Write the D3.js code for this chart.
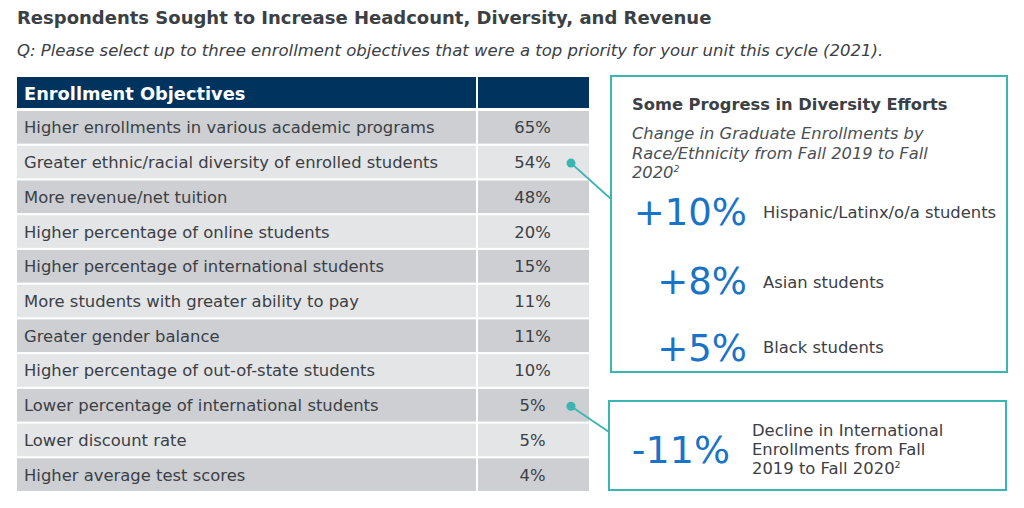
<!DOCTYPE html>
<html>
<head>
<meta charset="utf-8">
<script src="https://cdn.jsdelivr.net/npm/d3@7"></script>
<style>
  html, body { margin: 0; padding: 0; background: #fff; }
  svg { display: block; font-family: "DejaVu Sans", Verdana, sans-serif; }
</style>
</head>
<body>
<svg id="chart" width="1024" height="508"></svg>
<script>
// ---- data ----
const title = "Respondents Sought to Increase Headcount, Diversity, and Revenue";
const question = "Q: Please select up to three enrollment objectives that were a top priority for your unit this cycle (2021).";
const headerLabel = "Enrollment Objectives";
const objectives = [
  "Higher enrollments in various academic programs",
  "Greater ethnic/racial diversity of enrolled students",
  "More revenue/net tuition",
  "Higher percentage of online students",
  "Higher percentage of international students",
  "More students with greater ability to pay",
  "Greater gender balance",
  "Higher percentage of out-of-state students",
  "Lower percentage of international students",
  "Lower discount rate",
  "Higher average test scores"
];
const shares = [65, 54, 48, 20, 15, 11, 11, 10, 5, 5, 4];

const progressTitle = "Some Progress in Diversity Efforts";
const progressSubtitle = ["Change in Graduate Enrollments by", "Race/Ethnicity from Fall 2019 to Fall", "2020"];
const progressGroups = ["Hispanic/Latinx/o/a students", "Asian students", "Black students"];
const progressChange = [10, 8, 5];

const intlChange = -11;
const intlText = ["Decline in International", "Enrollments from Fall", "2019 to Fall 2020"];

// ---- styles ----
const navy = "#00345f", rowDark = "#cdcfd3", rowLight = "#e4e5e7";
const teal = "#3bb5b0", blue = "#1a73c6", textDark = "#3b4045";

const svg = d3.select("#chart");

// Title + question
svg.append("text").attr("x", 17).attr("y", 24)
  .attr("font-size", 18).attr("font-weight", "bold").attr("fill", textDark).text(title);
svg.append("text").attr("x", 17).attr("y", 56)
  .attr("font-size", 16.5).attr("font-style", "italic").attr("fill", textDark).text(question);

// Table scales
const col = d3.scaleOrdinal().domain(["label", "value"]).range([17, 478]);
const colW = { label: 459, value: 111 };
const y = d3.scaleBand().domain(objectives).range([111, 491]).paddingInner(0.06).paddingOuter(0);

// header
const header = svg.append("g");
["label", "value"].forEach(c => {
  header.append("rect").attr("x", col(c)).attr("y", 77).attr("width", colW[c]).attr("height", 31).attr("fill", navy);
});
header.append("text").attr("x", 24).attr("y", 100).attr("font-size", 17.8).attr("font-weight", "bold")
  .attr("fill", "#fff").text(headerLabel);

const rows = svg.append("g").selectAll("g").data(objectives).join("g")
  .attr("transform", d => `translate(0,${y(d)})`);
rows.append("rect").attr("x", col("label")).attr("width", colW.label).attr("height", y.bandwidth())
  .attr("fill", (d, i) => i % 2 === 0 ? rowDark : rowLight);
rows.append("rect").attr("x", col("value")).attr("width", colW.value).attr("height", y.bandwidth())
  .attr("fill", (d, i) => i % 2 === 0 ? rowDark : rowLight);
rows.append("text").attr("x", 24).attr("y", y.bandwidth() / 2 + 6)
  .attr("font-size", 16.4).attr("fill", textDark).text(d => d);
rows.append("text").attr("x", col("value") + colW.value / 2 - 1).attr("y", y.bandwidth() / 2 + 6)
  .attr("text-anchor", "middle").attr("font-size", 16.4).attr("fill", textDark)
  .text((d, i) => shares[i] + "%");

// connectors
function connector(rowName, bx, by) {
  const cy = y(rowName) + y.bandwidth() / 2 + 1;
  svg.append("line").attr("x1", 571).attr("y1", cy).attr("x2", bx).attr("y2", by)
    .attr("stroke", teal).attr("stroke-width", 1.8);
  svg.append("circle").attr("cx", 571).attr("cy", cy).attr("r", 4.5).attr("fill", teal);
}

// Box 1
svg.append("rect").attr("x", 611).attr("y", 76).attr("width", 396).attr("height", 296)
  .attr("fill", "#fff").attr("stroke", teal).attr("stroke-width", 2);
connector(objectives[1], 611, 199);
svg.append("text").attr("x", 632).attr("y", 110).attr("font-size", 16.3).attr("font-weight", "bold")
  .attr("fill", textDark).text(progressTitle);
progressSubtitle.forEach((t, i) => {
  const tx = svg.append("text").attr("x", 632).attr("y", 139 + i * 19.5).attr("font-size", 16.3)
    .attr("font-style", "italic").attr("fill", "#4a4f54").text(t);
  if (i === progressSubtitle.length - 1) tx.append("tspan").attr("font-size", 9.5).attr("dy", -6).text("2");
});
const pY = d3.scaleOrdinal().domain(progressGroups).range([225, 294, 361]);
const pLabelY = d3.scaleOrdinal().domain(progressGroups).range([218, 288, 353]);
progressGroups.forEach((g, i) => {
  svg.append("text").attr("x", 747).attr("y", pY(g)).attr("text-anchor", "end")
    .attr("font-size", 37).attr("fill", blue).text("+" + progressChange[i] + "%");
  svg.append("text").attr("x", 763).attr("y", pLabelY(g)).attr("font-size", 16.4)
    .attr("fill", textDark).text(g);
});

// Box 2
svg.append("rect").attr("x", 609).attr("y", 401).attr("width", 397).attr("height", 89)
  .attr("fill", "#fff").attr("stroke", teal).attr("stroke-width", 2);
connector(objectives[8], 609, 432);
svg.append("text").attr("x", 730).attr("y", 463).attr("text-anchor", "end")
  .attr("font-size", 38).attr("fill", blue).text(intlChange + "%");
intlText.forEach((t, i) => {
  const tx = svg.append("text").attr("x", 752).attr("y", 436 + i * 19).attr("font-size", 16.4)
    .attr("fill", textDark).text(t);
  if (i === intlText.length - 1) tx.append("tspan").attr("font-size", 9.5).attr("dy", -6).text("2");
});
</script>
</body>
</html>
